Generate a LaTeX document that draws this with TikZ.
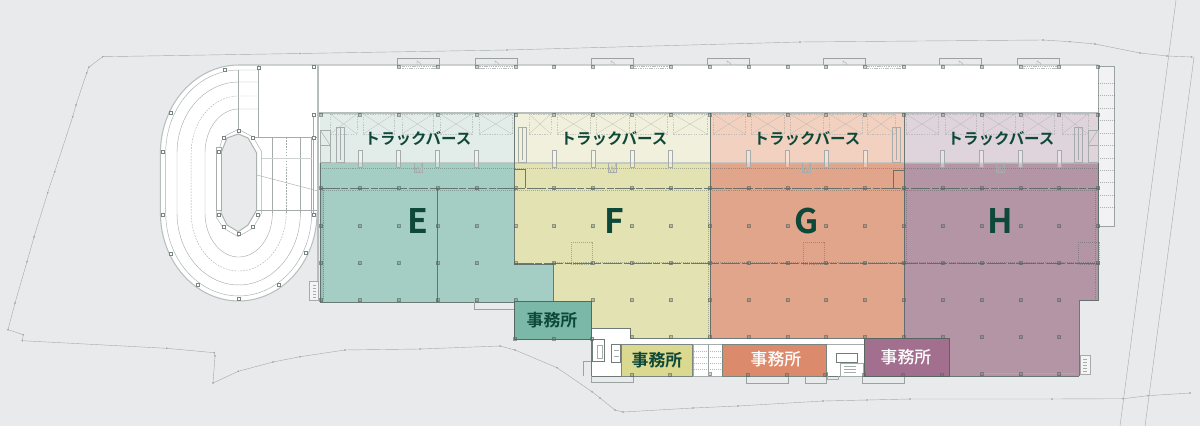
\documentclass[tikz,border=0pt]{standalone}
\usepackage{fontspec}
\newfontfamily\jpbold{Noto Sans CJK JP Bold}
\newfontfamily\jpmed{Noto Sans CJK JP Medium}
\definecolor{bggrey}{RGB}{233, 234, 236}
\definecolor{inkgreen}{RGB}{14, 72, 56}
\definecolor{wallgrey}{RGB}{184, 190, 190}
\definecolor{linegrey}{RGB}{165, 172, 171}
\definecolor{darkwall}{RGB}{88, 102, 98}
\definecolor{zoneE}{RGB}{164, 205, 195}
\definecolor{zoneF}{RGB}{227, 226, 178}
\definecolor{zoneG}{RGB}{225, 165, 139}
\definecolor{zoneH}{RGB}{180, 149, 166}
\definecolor{berthE}{RGB}{226, 237, 233}
\definecolor{berthF}{RGB}{241, 240, 220}
\definecolor{berthG}{RGB}{242, 209, 192}
\definecolor{berthH}{RGB}{223, 211, 220}
\definecolor{officeE}{RGB}{124, 184, 167}
\definecolor{officeF}{RGB}{219, 216, 143}
\definecolor{officeG}{RGB}{220, 138, 108}
\definecolor{officeH}{RGB}{162, 111, 142}
\newcommand{\ringline}[5]{\draw[#1] plot[domain=0:180,samples=48] ({238.7+#2*cos(\x)},{213+#3*sin(\x)}) -- plot[domain=180:270,samples=24] ({238.7+#2*cos(\x)},{153+#4*sin(\x)}) -- (#5);}
\begin{document}
\begin{tikzpicture}[
  x=0.025cm, y=-0.025cm,
  siteline/.style={draw=linegrey, line width=0.3pt},
  sitemark/.style={mark=*, mark size=0.4pt, mark options={fill=linegrey!85!black, draw=none}},
  thinline/.style={draw=linegrey, line width=0.3pt},
  paleline/.style={draw=linegrey, draw opacity=0.6, line width=0.25pt},
  dashline/.style={thinline, dash pattern=on 1.2pt off 0.9pt},
  paledash/.style={paleline, dash pattern=on 1pt off 0.8pt},
  wall/.style={draw=wallgrey, line width=0.75pt},
  darkline/.style={draw=darkwall, draw opacity=0.85, line width=0.4pt},
  dotline/.style={draw=darkwall, draw opacity=0.45, line width=0.3pt, dash pattern=on 0.7pt off 0.7pt},
  pillar/.style={draw=darkwall, draw opacity=0.6, fill=darkwall, fill opacity=0.3, line width=0.3pt},
  ringpillar/.style={draw=darkwall!80, fill=white, line width=0.35pt},
  dock/.style={draw=darkwall!60, line width=0.4pt},
  berthlabel/.style={font=\jpbold\fontsize{11pt}{12pt}\selectfont, text=inkgreen, inner sep=0pt},
  zonelabel/.style={font=\jpbold\fontsize{24pt}{26pt}\selectfont, text=inkgreen, inner sep=0pt},
  officelabel/.style={font=\fontsize{12pt}{13pt}\selectfont, inner sep=0pt},
]
  \useasboundingbox (0,0) rectangle (1200,426);
  \fill[bggrey] (0,0) rectangle (1200,426);

  \draw[siteline] plot[sitemark] coordinates {(1191.7,57) (1167,56) (1140,53) (1095,44) (1070,41.7) (1043,40) (800,42) (507,50) (300,53.5) (102.7,56.7) (88.7,67.3) (86.7,73) (76,105) (72.7,116.7) (54.7,171.7) (47.7,192.7) (34,237) (27,261.7) (15,303) (8,329.7) (23.3,334.7) (22.3,340.7) (166.7,348.3) (214.3,352.7) (215,356) (213,383) (238.3,371.3) (273,362) (300,356.7) (345,350) (420,349) (500,346) (515,350) (557,367.7) (592,391.7) (600,398) (615,410) (623,412) (693,408) (738,406) (823,401) (867,400) (910,399) (1052,399) (1123,398.7) (1148,395.7) (1190,393)};
  \draw[siteline] (1176,0) -- (1120,426);
  \draw[siteline] (1194,57) -- (1145,426);

  \ringline{fill=white, draw=none}{78.3}{88}{88}{318,65}
  \fill[white] (318,65) rectangle (1098,163);
  \fill[white] (238.7,65) rectangle (318,213);
  \ringline{wall}{78.3}{88}{88}{1098,65}
  \ringline{thinline}{73}{83}{83}{258,70}
  \ringline{thinline}{61.7}{72}{71}{258.5,82}
  \ringline{dashline}{47.5}{58}{57}{258.5,96}
  \ringline{thinline}{33.7}{44}{44}{258.5,109}
  \draw[thinline] (311.7,137) -- (311.7,213);
  \draw[thinline] (300.4,137) -- (300.4,213);
  \draw[thinline] (272.4,137) -- (272.4,213);
  \draw[dashline] (286.2,137) -- (286.2,213);
  \draw[thinline] (258.5,65) -- (258.5,137);
  \draw[thinline] (238.7,70) -- (238.7,129);
  \draw[thinline] (253,137) -- (318,137);
  \draw[thinline] (253,210) -- (318,210);
  \draw[thinline] (253,174) -- (318,191);
  \draw[wallgrey!70, line width=0.7pt] (261,158) -- (312,158);
  \draw[wall] (318,65) -- (318,301);
  \draw[thinline] (313,113) -- (313,213);

  \draw[thinline] (238.3,129.3) -- (253,137) -- (261.7,151.7) -- (261.7,213) -- (253,228) -- (238.3,236.7) -- (223.3,228) -- (216.7,218) -- (216.7,156.7) -- (223,137) -- cycle;
  \draw[darkwall!50, line width=0.7pt, fill=bggrey] (238.3,134) -- (248,138) -- (256.7,153) -- (256.7,210) -- (248,225) -- (238.3,231.7) -- (227,225) -- (221,213) -- (221,153) -- (227,138) -- cycle;
  \draw[thinline, fill=white] (216.7,147) rectangle (221,210);
  \foreach \xa/\ya in {163/152,163/214.5,171/113,224.5/69.5,258.5/67.5,171/253.7,198/285,279/285,239/299,306/253,313.7/214.5,313.7/138,313.7/114.7,313.7/66.7,219/152,219/214.5,258/214.5,252.7/138,239/131,224/138,224/227,239/234,253/227}
    \draw[ringpillar] (\xa-1.7,\ya-1.7) rectangle (\xa+1.7,\ya+1.7);

  \fill[berthE] (320,113) rectangle (514,163);
  \fill[berthF] (514,113) rectangle (710,163);
  \fill[berthG] (710,113) rectangle (904,163);
  \fill[berthH] (904,113) rectangle (1098,163);
  \fill[zoneE] (320,163) -- (514,163) -- (514,264) -- (553,264) -- (553,302) -- (320,302) -- cycle;
  \fill[zoneF] (514,163) -- (710,163) -- (710,338) -- (630,338) -- (630,328) -- (592,328) -- (592,301) -- (553,301) -- (553,264) -- (514,264) -- cycle;
  \fill[zoneG] (710,163) rectangle (904,338);
  \fill[zoneH] (904,163) -- (1098,163) -- (1098,300.5) -- (1079,300.5) -- (1079,376) -- (904,376) -- cycle;
  \fill[darkwall, fill opacity=0.12] (320,188) rectangle (323.5,302);

  \fill[white] (591,328) -- (630,328) -- (630,338) -- (864,338) -- (864,376) -- (591,376) -- cycle;
  \draw[darkline] (591,328) -- (630,328) -- (630,338) -- (864,338);
  \draw[darkline] (591,328) -- (591,376) -- (864,376);
  \draw[thinline] (630,344) -- (864,344);

  \draw[darkwall!60, line width=0.4pt, fill=bggrey!60!white] (1098,66.7) rectangle (1114.5,226);
  \foreach \ya in {83,95.5,108,120.5,133,145.5,158,170,182.5,195,207.5}
    \draw[dotline] (1098,\ya) -- (1114.5,\ya);

  \draw[wall] (318,113) -- (1098,113);
  \draw[wall, draw opacity=0.7] (320,163) -- (1098,163);
  \draw[dotline] (320,168) -- (1098,168);
  \draw[darkline, dash pattern=on 14pt off 1pt on 5pt off 1pt] (320,188) -- (1098,188);
  \draw[dotline] (320,190) -- (1098,190);
  \draw[darkline, dash pattern=on 14pt off 1pt on 5pt off 1pt] (514,263.5) -- (1098,263.5);
  \draw[dotline] (553,262) -- (1098,262);
  \draw[darkline] (320,163) -- (320,302) -- (553,302) -- (553,264) -- (514,264) -- (514,113);
  \draw[darkline] (437.5,188) -- (437.5,302);
  \draw[darkline] (710,113) -- (710,338);
  \draw[darkline] (904,113) -- (904,376);
  \draw[darkline] (1098,113) -- (1098,300.5) -- (1079,300.5) -- (1079,376);
  \draw[darkline] (904,376) -- (1079,376);
  \draw[dotline] (1095,188) -- (1095,300);
  \draw[dotline] (323,190) -- (323,300);
  \draw[dotline] (708,190) -- (708,336);
  \draw[dotline] (906,190) -- (906,262);
  \draw[thinline] (979,373) -- (1076,373);

  \foreach \xa/\xb in {330/357,363/394,402/433,440/472,479/512,529/551,557/590,596/629,635/667,673/707,713/745,751/784,790/823,829/862,867/895,906/938,945/976,983/1015,1023/1054,1062/1088}
  {
    \draw[paledash] (\xa,114) rectangle (\xb,134);
    \draw[paleline] (\xa,114) -- (\xb,134);
    \draw[paleline] (\xa,134) -- (\xb,114);
  }
  \foreach \xa in {336,518,892,1074}
  {
    \draw[thinline] (\xa,127) rectangle (\xa+8,162);
    \draw[thinline] (\xa+4,127) -- (\xa+4,160);
  }
  \draw[thinline] (320,130) rectangle (330,145);
  \draw[thinline] (320,145) rectangle (330,162);
  \draw[thinline] (320,130) -- (330,145);
  \draw[thinline] (1088,130) rectangle (1098,145);
  \draw[thinline] (1088,145) rectangle (1098,162);
  \draw[thinline] (1088,145) -- (1098,130);
  \foreach \xa in {418,612,806,1000}
  {
    \draw[thinline] (\xa-4,163) -- (\xa-4,172.5) -- (\xa+4,172.5) -- (\xa+4,163);
    \draw[thinline] (\xa-4,163) -- (\xa-1.5,172.5) -- (\xa,166) -- (\xa+1.5,172.5) -- (\xa+4,163);
  }
  \draw[darkline] (514,169) -- (525,169) -- (525,188);
  \draw[darkline] (904,170) -- (893,170) -- (893,188);
  \foreach \xa in {571,803,1078}
    \draw[dotline] (\xa,242) rectangle (\xa+21,264);

  \foreach \xa in {397,475,591,707,823,939,1017}
  {
    \draw[dock] (\xa,65) -- (\xa,58.3) -- (\xa+42,58.3) -- (\xa+42,65);
    \draw[thinline] (\xa+20,65) -- (\xa+20,61) -- (\xa+23,63) -- (\xa+24,65);
  }
  \foreach \xa in {399,476.5,631.7,864,1020}
  {
    \draw[wallgrey, line width=0.4pt, dash pattern=on 0.8pt off 0.5pt] (\xa+3,66) rectangle (\xa+36,68.5);
  }

  \foreach \k in {2,...,20}
  {
    \pgfmathsetmacro{\xa}{321+38.85*\k}
    \draw[pillar] (\xa-1.5,65.5) rectangle (\xa+1.5,68.5);
  }
  \foreach \k in {0,...,20}
  {
    \pgfmathsetmacro{\xa}{321+38.85*\k}
    \draw[pillar] (\xa-1.5,113.5) rectangle (\xa+1.5,116.5);
    \draw[pillar] (\xa-1.5,186.5) rectangle (\xa+1.5,189.5);
    \draw[pillar] (\xa-1.5,224.5) rectangle (\xa+1.5,227.5);
    \draw[pillar] (\xa-1.5,261.5) rectangle (\xa+1.5,264.5);
  }
  \foreach \k in {1,2,3,4,6,7,8,9,11,12,13,14,16,17,18,19}
  {
    \pgfmathsetmacro{\xa}{321+38.85*\k}
    \draw[thinline, fill=white, fill opacity=0.35] (\xa-2,150) rectangle (\xa+2,167);
  }
  \foreach \k in {0,1,2,3,4,5,7,8,9,10,11,12,13,14,15,16,17,18,19}
  {
    \pgfmathsetmacro{\xa}{321+38.85*\k}
    \draw[pillar] (\xa-1.5,298.5) rectangle (\xa+1.5,301.5);
  }
  \foreach \k in {8,...,19}
  {
    \pgfmathsetmacro{\xa}{321+38.85*\k}
    \draw[pillar] (\xa-1.5,335.5) rectangle (\xa+1.5,338.5);
    \draw[pillar] (\xa-1.5,372.5) rectangle (\xa+1.5,375.5);
  }

  \draw[dock] (474,302) -- (474,309) -- (516,309) -- (516,302);
  \draw[dock] (591,376) -- (591,382.7) -- (633,382.7) -- (633,376);
  \draw[dock] (746,376) -- (746,383) -- (788,383) -- (788,376);
  \draw[dock] (862,376) -- (862,383) -- (904,383) -- (904,376);
  \draw[dock, line width=0.7pt] (805,376) -- (805,383) -- (826,383) -- (826,376);
  \draw[dock] (583,376) -- (583,361) -- (591,361);
  \draw[thinline] (827,376) -- (827,379) -- (838,379) -- (838,376);
  \draw[thinline, fill=bggrey!50!white] (309,281.7) rectangle (318,300);
  \foreach \ya in {285,288,291,294,297}
    \draw[thinline] (313,\ya) -- (316,\ya);
  \draw[thinline, fill=bggrey!50!white] (1080,355) rectangle (1090,374);
  \foreach \ya in {359,362,365,368,371}
    \draw[thinline] (1083,\ya) -- (1087,\ya);

  \draw[darkline] (592.7,339) rectangle (604.7,361.7);
  \draw[thinline] (597,345) rectangle (602,358);
  \draw[darkline] (611.7,344) rectangle (620.7,362);
  \draw[thinline] (614,350) -- (619,350) (614,356) -- (619,356);
  \draw[thinline] (692.7,344) rectangle (722.7,376);
  \foreach \ya in {351,357,363,369}
    \draw[dotline] (694,\ya) -- (708,\ya) (710,\ya) -- (722,\ya);
  \draw[darkwall!60, line width=0.35pt] (708,344) -- (708,376);
  \draw[darkline] (836.7,353) rectangle (857.7,362);
  \draw[thinline] (840,363) rectangle (863,376);
  \foreach \ya in {366,369,372}
    \draw[thinline] (844,\ya) -- (856,\ya);

  \draw[darkwall, line width=0.5pt, fill=officeE] (514,301) rectangle (591.5,339);
  \draw[darkwall!80, line width=0.4pt, fill=officeF] (621,344.5) rectangle (692.7,376);
  \draw[darkwall!80, line width=0.4pt, fill=officeG] (722,344) rectangle (826,376);
  \draw[darkwall, line width=0.5pt, fill=officeH] (864,338) rectangle (949.5,376);
  \foreach \xa in {515,553.5,592}
  {
    \draw[pillar] (\xa-1.5,337) rectangle (\xa+1.5,340);
  }
  \foreach \xa in {632,670,747.7,786.5,825,864,902.7,941.7}
  {
    \draw[pillar] (\xa-1.5,373.5) rectangle (\xa+1.5,376.5);
  }

  \node[berthlabel] (berthE) at (418,139) {トラックバース};
  \node[berthlabel] (berthF) at (614,139) {トラックバース};
  \node[berthlabel] (berthG) at (807,139) {トラックバース};
  \node[berthlabel] (berthH) at (1001,139) {トラックバース};
  \node[zonelabel] (zonelabelE) at (418,221) {E};
  \node[zonelabel] (zonelabelF) at (614,221) {F};
  \node[zonelabel] (zonelabelG) at (807,221) {G};
  \node[zonelabel] (zonelabelH) at (1000,221) {H};
  \node[officelabel, text=inkgreen] (officelabelE) at (552,320) {\jpbold 事務所};
  \node[officelabel, text=inkgreen] (officelabelF) at (657,360) {\jpbold 事務所};
  \node[officelabel, text=white] (officelabelG) at (776,359) {\jpmed 事務所};
  \node[officelabel, text=white] (officelabelH) at (906,357) {\jpmed 事務所};
\end{tikzpicture}
\end{document}
